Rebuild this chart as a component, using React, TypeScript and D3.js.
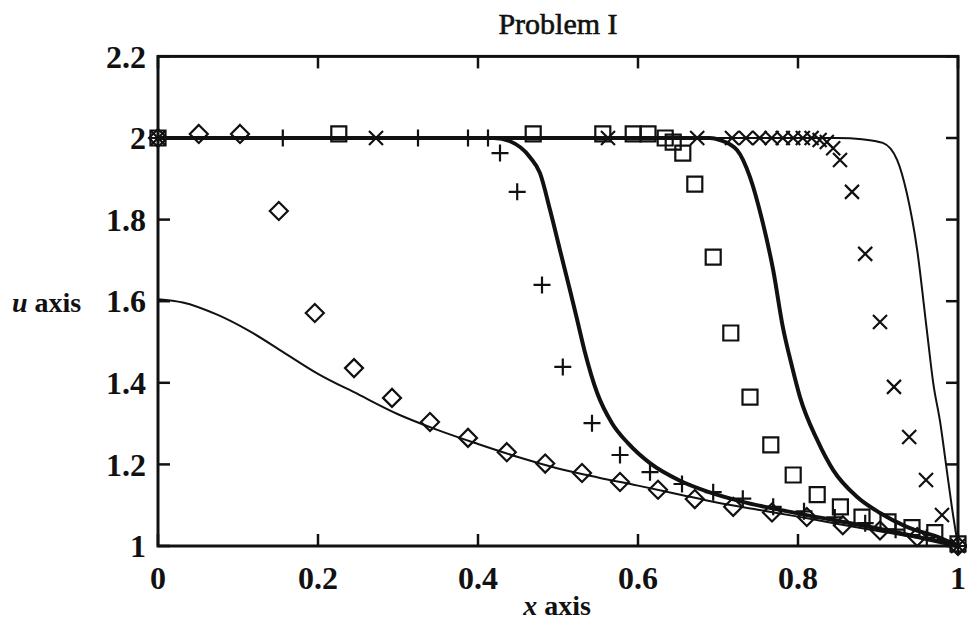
import React from "react";
import * as d3 from "d3";

const W = 967;
const H = 620;

const TITLE = "Problem I";
const X_LABEL = "axis";
const Y_LABEL = "axis";

const X_TICKS = [0, 0.2, 0.4, 0.6, 0.8, 1];
const X_TICK_LABELS = ["0", "0.2", "0.4", "0.6", "0.8", "1"];
const Y_TICKS = [1, 1.2, 1.4, 1.6, 1.8, 2, 2.2];
const Y_TICK_LABELS = ["1", "1.2", "1.4", "1.6", "1.8", "2", "2.2"];

// smooth thin curve (latest time)
const CURVE_SMOOTH: [number, number][] = [
  [0, 1.605], [0.031, 1.597], [0.074, 1.567], [0.115, 1.526], [0.156, 1.476],
  [0.2, 1.422], [0.25, 1.372], [0.3, 1.323], [0.35, 1.284], [0.4, 1.25],
  [0.45, 1.218], [0.5, 1.19], [0.55, 1.168], [0.6, 1.148], [0.65, 1.127],
  [0.7, 1.106], [0.75, 1.089], [0.8, 1.072], [0.85, 1.054], [0.9, 1.037],
  [0.95, 1.02], [1.0, 1.0],
];

// thick front near x = 0.5
const CURVE_FRONT_A: [number, number][] = [
  [0, 2.0], [0.42, 2.0], [0.44, 1.992], [0.465, 1.953], [0.4775, 1.914],
  [0.49, 1.824], [0.5025, 1.725], [0.515, 1.627], [0.524, 1.554], [0.533, 1.48],
  [0.549, 1.375], [0.5675, 1.301], [0.5875, 1.252], [0.615, 1.203], [0.6525, 1.16],
  [0.686, 1.134], [0.7275, 1.11], [0.8, 1.08], [0.9, 1.043], [1.0, 1.0],
];

// thick front near x = 0.77
const CURVE_FRONT_B: [number, number][] = [
  [0, 2.0], [0.69, 2.0], [0.7025, 1.995], [0.724, 1.97], [0.74, 1.904],
  [0.755, 1.8], [0.769, 1.676], [0.781, 1.537], [0.7925, 1.44], [0.8025, 1.365],
  [0.824, 1.26], [0.844, 1.186], [0.874, 1.12], [0.9025, 1.081], [0.936, 1.047],
  [0.9775, 1.02], [1.0, 1.0],
];

// thin front near x = 0.96
const CURVE_FRONT_C: [number, number][] = [
  [0, 2.0], [0.85, 2.0], [0.88, 1.997], [0.906, 1.988], [0.924, 1.946],
  [0.936, 1.865], [0.949, 1.725], [0.961, 1.53], [0.969, 1.4], [0.978, 1.3],
  [0.985, 1.2], [0.992, 1.1], [1.0, 1.0],
];

const DIAMONDS: [number, number][] = [
  [0, 2.0], [0.051, 2.01], [0.1025, 2.01], [0.151, 1.821], [0.196, 1.571],
  [0.245, 1.436], [0.2925, 1.363], [0.34, 1.304], [0.3875, 1.265], [0.436, 1.23],
  [0.484, 1.202], [0.53, 1.179], [0.5775, 1.157], [0.625, 1.138], [0.671, 1.115],
  [0.719, 1.096], [0.7675, 1.082], [0.811, 1.071], [0.856, 1.051], [0.9025, 1.038],
  [0.949, 1.022], [1.0, 1.0],
];

const PLUSES: [number, number][] = [
  [0, 2.0], [0.156, 2.0], [0.325, 2.0], [0.3875, 2.0], [0.4125, 2.0],
  [0.4275, 1.963], [0.449, 1.868], [0.48, 1.64], [0.506, 1.439], [0.5425, 1.301],
  [0.5775, 1.223], [0.615, 1.181], [0.655, 1.152], [0.694, 1.132], [0.731, 1.116],
  [0.769, 1.096], [0.8075, 1.085], [0.846, 1.07], [0.884, 1.056], [0.922, 1.04],
  [0.961, 1.02], [1.0, 1.0],
];

const SQUARES: [number, number][] = [
  [0, 2.0], [0.226, 2.01], [0.469, 2.01], [0.556, 2.01], [0.594, 2.01],
  [0.6125, 2.01], [0.634, 2.0], [0.644, 1.99], [0.656, 1.963], [0.671, 1.887],
  [0.694, 1.708], [0.716, 1.522], [0.74, 1.365], [0.766, 1.248], [0.794, 1.174],
  [0.824, 1.126], [0.853, 1.096], [0.88, 1.071], [0.9125, 1.059], [0.9425, 1.045],
  [0.971, 1.033], [1.0, 1.005],
];

const CROSSES: [number, number][] = [
  [0, 2.0], [0.2725, 2.0], [0.5625, 2.0], [0.674, 2.0], [0.7175, 2.0],
  [0.735, 2.0], [0.752, 2.0], [0.767, 2.0], [0.781, 2.0], [0.794, 2.0],
  [0.806, 2.0], [0.817, 2.0], [0.827, 1.995], [0.836, 1.99], [0.844, 1.975],
  [0.8525, 1.946], [0.8675, 1.868], [0.884, 1.716], [0.9025, 1.549], [0.92, 1.39],
  [0.939, 1.267], [0.96, 1.162], [0.98, 1.076], [1.0, 1.0],
];

const LEFT = 158;
const RIGHT = 958;
const TOP = 56.4;
const BOTTOM = 546;

const FONT = "'Liberation Serif', 'DejaVu Serif', serif";

function markerPath(kind: string, cx: number, cy: number): string {
  if (kind === "diamond") {
    const r = 9;
    return `M${cx},${cy - r}L${cx + r},${cy}L${cx},${cy + r}L${cx - r},${cy}Z`;
  }
  if (kind === "square") {
    const r = 7.5;
    return `M${cx - r},${cy - r}H${cx + r}V${cy + r}H${cx - r}Z`;
  }
  if (kind === "plus") {
    const r = 8.5;
    return `M${cx - r},${cy}H${cx + r}M${cx},${cy - r}V${cy + r}`;
  }
  const r = 7;
  return `M${cx - r},${cy - r}L${cx + r},${cy + r}M${cx - r},${cy + r}L${cx + r},${cy - r}`;
}

export default function App() {
  const x = d3.scaleLinear().domain([0, 1]).range([LEFT, RIGHT]);
  const y = d3.scaleLinear().domain([1, 2.2]).range([BOTTOM, TOP]);
  const line = d3
    .line<[number, number]>()
    .x((d) => x(d[0]))
    .y((d) => y(d[1]))
    .curve(d3.curveMonotoneX);

  const tickLen = 12;
  const series: { kind: string; data: [number, number][] }[] = [
    { kind: "diamond", data: DIAMONDS },
    { kind: "plus", data: PLUSES },
    { kind: "square", data: SQUARES },
    { kind: "cross", data: CROSSES },
  ];

  return (
    <svg
      width={W}
      height={H}
      style={{ position: "absolute", left: 0, top: 0, display: "block", background: "#fff" }}
    >
      <rect x={0} y={0} width={W} height={H} fill="#fff" />
      <text
        x={558}
        y={34}
        textAnchor="middle"
        fontFamily={FONT}
        fontSize={30}
        fill="#111"
        stroke="#111"
        strokeWidth={0.6}
      >
        {TITLE}
      </text>

      {/* curves */}
      <path d={line(CURVE_SMOOTH) || ""} fill="none" stroke="#111" strokeWidth={2} />
      <path d={line(CURVE_FRONT_A) || ""} fill="none" stroke="#111" strokeWidth={4} />
      <path d={line(CURVE_FRONT_B) || ""} fill="none" stroke="#111" strokeWidth={4} />
      <path d={line(CURVE_FRONT_C) || ""} fill="none" stroke="#111" strokeWidth={2} />

      {/* markers */}
      {series.map((s) =>
        s.data.map((d, i) => (
          <path
            key={s.kind + i}
            d={markerPath(s.kind, x(d[0]), y(d[1]))}
            fill="none"
            stroke="#111"
            strokeWidth={2.2}
          />
        ))
      )}

      {/* frame */}
      <rect
        x={LEFT}
        y={TOP}
        width={RIGHT - LEFT}
        height={BOTTOM - TOP}
        fill="none"
        stroke="#111"
        strokeWidth={3}
      />

      {/* x ticks */}
      {X_TICKS.map((t, i) => (
        <g key={"xt" + i}>
          <line x1={x(t)} x2={x(t)} y1={BOTTOM} y2={BOTTOM - tickLen} stroke="#111" strokeWidth={2.5} />
          <line x1={x(t)} x2={x(t)} y1={TOP} y2={TOP + tickLen} stroke="#111" strokeWidth={2.5} />
          <text
            x={x(t)}
            y={589}
            textAnchor="middle"
            fontFamily={FONT}
            fontWeight="bold"
            fontSize={32}
            fill="#111"
          >
            {X_TICK_LABELS[i]}
          </text>
        </g>
      ))}

      {/* y ticks */}
      {Y_TICKS.map((t, i) => (
        <g key={"yt" + i}>
          <line x1={LEFT} x2={LEFT + tickLen} y1={y(t)} y2={y(t)} stroke="#111" strokeWidth={2.5} />
          <line x1={RIGHT} x2={RIGHT - tickLen} y1={y(t)} y2={y(t)} stroke="#111" strokeWidth={2.5} />
          <text
            x={146}
            y={y(t)}
            dy="0.35em"
            textAnchor="end"
            fontFamily={FONT}
            fontWeight="bold"
            fontSize={32}
            fill="#111"
          >
            {Y_TICK_LABELS[i]}
          </text>
        </g>
      ))}

      {/* axis labels */}
      <text x={557} y={615} textAnchor="middle" fontFamily={FONT} fontWeight="bold" fontSize={28} fill="#111">
        <tspan fontStyle="italic">x</tspan>
        {" " + X_LABEL}
      </text>
      <text x={12} y={302} dy="0.35em" textAnchor="start" fontFamily={FONT} fontWeight="bold" fontSize={28} fill="#111">
        <tspan fontStyle="italic">u</tspan>
        {" " + Y_LABEL}
      </text>
    </svg>
  );
}
